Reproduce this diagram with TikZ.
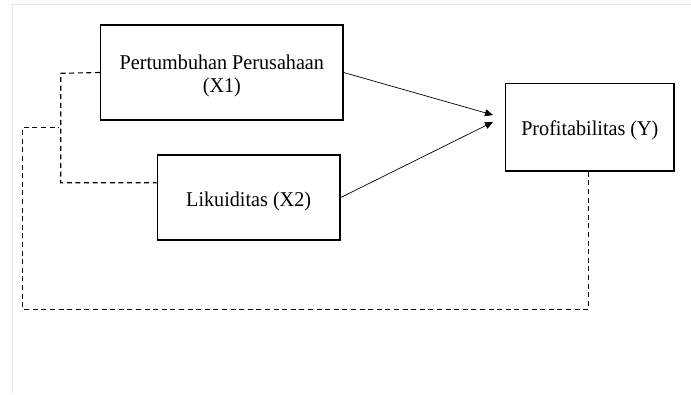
\documentclass[tikz,border=0pt]{standalone}
\usepackage{fontspec}
\setmainfont{Liberation Serif}[FakeStretch=0.96]
\usetikzlibrary{arrows.meta}
\begin{document}
\begin{tikzpicture}[x=1pt,y=-1pt,
  varbox/.style={draw=black, line width=1.4pt, inner sep=0pt},
  vartext/.style={align=center, inner sep=0pt, font=\fontsize{21}{23.5}\selectfont},
  link/.style={draw=black, line width=0.7pt, -{Triangle[length=8pt,width=7pt]}},
  dashlink/.style={draw=black, line width=1.1pt, dash pattern=on 5pt off 3.6pt},
  pageedge/.style={draw=black!9, line width=0.8pt}]
\useasboundingbox (0,0) rectangle (691,394);
\draw[pageedge] (12,394) -- (12,4) -- (691,4);
\node[varbox, minimum width=242.3pt, minimum height=95pt] (x1) at (221.85,72.5) {};
\node[varbox, minimum width=182.7pt, minimum height=85pt] (x2) at (248.65,197.5) {};
\node[varbox, minimum width=168.3pt, minimum height=87.7pt] (y) at (589.85,127.2) {};
\node[vartext] (x1t) at ([yshift=-3.5pt]x1.center) {Pertumbuhan Perusahaan\\(X1)};
\node[vartext] (x2t) at ([yshift=-4pt]x2.center) {Likuiditas (X2)};
\node[vartext] (yt) at ([yshift=-3pt]y.center) {Profitabilitas (Y)};
\coordinate (t1) at (493,115);
\coordinate (t2) at (493,122);
\coordinate (c1) at (60.7,73.3);
\coordinate (c2) at (60.7,182.7);
\coordinate (o1) at (588.3,309.3);
\coordinate (o2) at (22.7,309.3);
\coordinate (o3) at (22.7,127.7);
\coordinate (o4) at (59,127.7);
\draw[link] (x1.east) -- (t1);
\draw[link] (x2.east) -- (t2);
\draw[dashlink] (x1.west) -- (c1) -- (c2) -- (x2.west |- c2);
\draw[dashlink] (y.south -| o1) -- (o1) -- (o2) -- (o3) -- (o4);
\end{tikzpicture}
\end{document}
